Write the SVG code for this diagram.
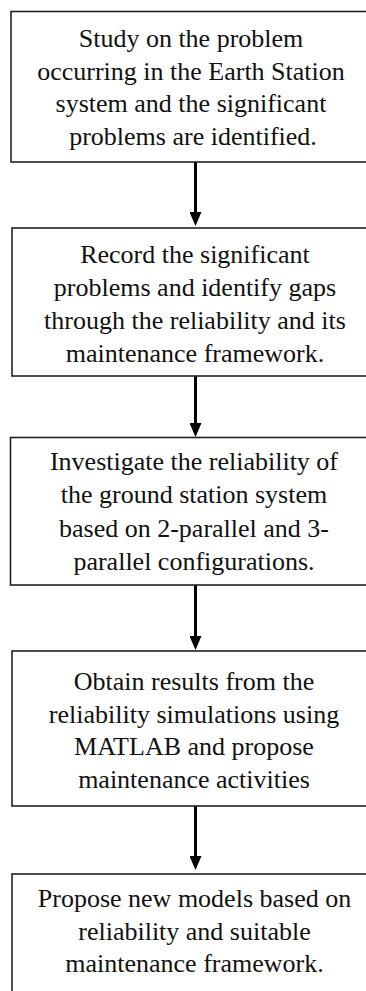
<svg xmlns="http://www.w3.org/2000/svg" width="366" height="991" viewBox="0 0 366 991">
<style>
.box{fill:#fff;stroke:#222;stroke-width:1.6}
.t{font-family:"Liberation Serif","Times New Roman",serif;font-size:26px;fill:#111;text-anchor:middle}
.c{stroke:#000;stroke-width:3;fill:none}
</style>
<defs>
<marker id="ah" viewBox="0 0 14 12" refX="0" refY="6" markerWidth="14" markerHeight="12" markerUnits="userSpaceOnUse" orient="auto">
<path d="M0,0 L14,6 L0,12 z" fill="#000"/>
</marker>
</defs>
<rect width="366" height="991" fill="#fff"/>
<g id="connectors">
<line class="c" x1="195.5" y1="162" x2="195.5" y2="212" marker-end="url(#ah)"/>
<line class="c" x1="195.5" y1="376" x2="195.5" y2="423" marker-end="url(#ah)"/>
<line class="c" x1="195.5" y1="585" x2="195.5" y2="636" marker-end="url(#ah)"/>
<line class="c" x1="195.5" y1="806" x2="195.5" y2="856" marker-end="url(#ah)"/>
</g>
<g id="n1">
<rect class="box" x="11" y="11.5" width="370" height="150.5"/>
<text class="t" x="191" y="46.5">Study on the problem</text>
<text class="t" x="191" y="79.5">occurring in the Earth Station</text>
<text class="t" x="191" y="112">system and the significant</text>
<text class="t" x="193" y="145">problems are identified.</text>
</g>
<g id="n2">
<rect class="box" x="12" y="228" width="370" height="148"/>
<text class="t" x="195" y="263">Record the significant</text>
<text class="t" x="195" y="296">problems and identify gaps</text>
<text class="t" x="195" y="329">through the reliability and its</text>
<text class="t" x="195" y="362">maintenance framework.</text>
</g>
<g id="n3">
<rect class="box" x="10.5" y="437.5" width="370" height="147.5"/>
<text class="t" x="194" y="470">Investigate the reliability of</text>
<text class="t" x="194" y="503">the ground station system</text>
<text class="t" x="194" y="537">based on 2-parallel and 3-</text>
<text class="t" x="194" y="570">parallel configurations.</text>
</g>
<g id="n4">
<rect class="box" x="12" y="651" width="370" height="155"/>
<text class="t" x="194" y="690">Obtain results from the</text>
<text class="t" x="194" y="722.5">reliability simulations using</text>
<text class="t" x="194" y="755">MATLAB and propose</text>
<text class="t" x="194" y="787.5">maintenance activities</text>
</g>
<g id="n5">
<rect class="box" x="12" y="874" width="370" height="140"/>
<text class="t" x="194.5" y="907">Propose new models based on</text>
<text class="t" x="194.5" y="939.5">reliability and suitable</text>
<text class="t" x="194.5" y="972">maintenance framework.</text>
</g>
</svg>
